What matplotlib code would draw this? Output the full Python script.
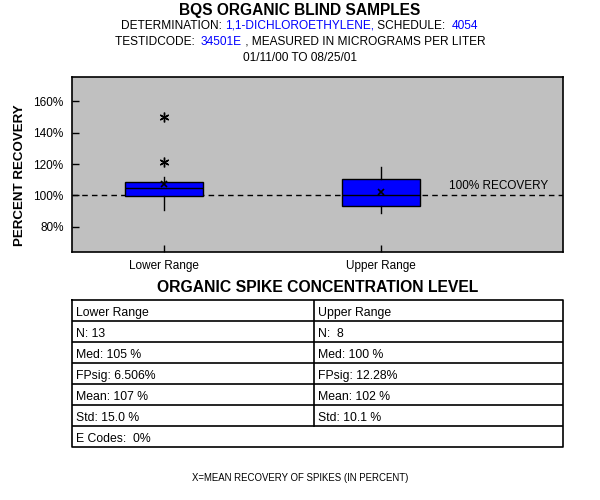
import matplotlib
matplotlib.use("Agg")
import matplotlib.pyplot as plt
from matplotlib.lines import Line2D

plt.rcParams['font.family'] = ['Liberation Sans', 'DejaVu Sans']

categories = ["Lower Range", "Upper Range"]
q1 = [99.4, 93.4]
medians = [104.5, 100.0]
q3 = [108.3, 110.3]
whislo = [91.0, 89.0]
whishi = [112.0, 118.0]
means = [107.0, 102.0]
fliers = [[150.0, 121.0], []]
yticks = [80, 100, 120, 140, 160]

table_left = ["Lower Range", "N: 13", "Med: 105 %", "FPsig: 6.506%", "Mean: 107 %", "Std: 15.0 %"]
table_right = ["Upper Range", "N:  8", "Med: 100 %", "FPsig: 12.28%", "Mean: 102 %", "Std: 10.1 %"]
table_last = "E Codes:  0%"

W, H = 600, 500
fig = plt.figure(figsize=(6, 5), dpi=100)

def px(x0, y0, x1, y1):
    return [x0 / W, 1 - y1 / H, (x1 - x0) / W, (y1 - y0) / H]

ax = fig.add_axes(px(72, 77, 563, 252))
ax.set_facecolor('#C0C0C0')
stats = []
for i in range(len(categories)):
    stats.append(dict(med=medians[i], q1=q1[i], q3=q3[i], whislo=whislo[i],
                      whishi=whishi[i], mean=means[i], fliers=fliers[i]))
ax.bxp(stats, positions=[1, 2], widths=0.36, patch_artist=True, showcaps=False,
       showmeans=True,
       boxprops=dict(facecolor='#0000FF', edgecolor='black', linewidth=1),
       medianprops=dict(color='black', linewidth=1),
       whiskerprops=dict(color='black', linewidth=1),
       meanprops=dict(marker='x', markeredgecolor='black', markersize=5, markeredgewidth=1.2),
       flierprops=dict(marker=(6, 2, 0), markeredgecolor='black', markersize=7, markeredgewidth=1.0))
ax.axhline(100, color='black', linestyle=(0, (4, 3)), linewidth=1, zorder=0.5)
ax.text(2.77, 100 + 2.2, "100% RECOVERY", ha='right', va='bottom', fontsize=8.5)
ax.set_xlim(0.575, 2.837)
ax.set_ylim(64, 175.4)
ax.set_yticks(yticks)
ax.set_yticklabels([f"{v}%" for v in yticks], fontsize=8.5)
ax.set_xticks([1, 2])
ax.set_xticklabels(categories, fontsize=8.5)
ax.tick_params(axis='both', direction='in', length=5, width=1, color='black')
ax.tick_params(axis='x', pad=6)
ax.tick_params(axis='y', pad=6)
for s in ax.spines.values():
    s.set_linewidth(1.2)

fig.text(20 / W, 1 - 175 / H, "PERCENT RECOVERY", rotation=90, ha='center', va='center',
         fontsize=9.6, fontweight='bold')

# titles
fig.text(0.5, 1 - 10 / H, "BQS ORGANIC BLIND SAMPLES", ha='center', va='center',
         fontsize=11.2, fontweight='bold')

def colored_line(y_px, segments, size=8.6):
    fig.canvas.draw()
    r = fig.canvas.get_renderer()
    texts = []
    total = 0
    for s, c in segments:
        t = fig.text(0, 1 - y_px / H, s, color=c, fontsize=size, ha='left', va='center')
        w = t.get_window_extent(renderer=r).width
        texts.append((t, w))
        total += w
    x = (W * 0.5 - total / 2)
    for t, w in texts:
        t.set_x(x / W)
        x += w

colored_line(26, [("DETERMINATION: ", 'black'), ("1,1-DICHLOROETHYLENE,", '#0000FF'),
                  (" SCHEDULE:  ", 'black'), ("4054", '#0000FF')])
colored_line(42, [("TESTIDCODE:  ", 'black'), ("34501E", '#0000FF'),
                  (" , MEASURED IN MICROGRAMS PER LITER", 'black')])
fig.text(0.5, 1 - 58 / H, "01/11/00 TO 08/25/01", ha='center', va='center', fontsize=8.6)

fig.text(318 / W, 1 - 287 / H, "ORGANIC SPIKE CONCENTRATION LEVEL", ha='center', va='center',
         fontsize=11.3, fontweight='bold')

# table
tx0, tx1, ty0, ty1 = 72, 563, 300, 447
xm = 314
nrows = 7
rh = (ty1 - ty0) / nrows
tax = fig.add_axes(px(tx0, ty0, tx1, ty1))
tax.set_xlim(tx0, tx1)
tax.set_ylim(ty1, ty0)
tax.axis('off')
lw = 1.2
tax.add_line(Line2D([tx0, tx1, tx1, tx0, tx0], [ty0, ty0, ty1, ty1, ty0], color='black', lw=lw, clip_on=False))
for i in range(1, nrows):
    y = ty0 + i * rh
    tax.add_line(Line2D([tx0, tx1], [y, y], color='black', lw=lw))
tax.add_line(Line2D([xm, xm], [ty0, ty0 + 6 * rh], color='black', lw=lw))
for i in range(6):
    yc = ty0 + (i + 0.6) * rh
    tax.text(tx0 + 4, yc, table_left[i], ha='left', va='center', fontsize=8.8)
    tax.text(xm + 4, yc, table_right[i], ha='left', va='center', fontsize=8.8)
tax.text(tx0 + 4, ty0 + 6.6 * rh, table_last, ha='left', va='center', fontsize=8.8)

fig.text(300 / W, 1 - 478 / H, "X=MEAN RECOVERY OF SPIKES (IN PERCENT)", ha='center', va='center',
         fontsize=6.9)

fig.savefig("out.png", dpi=100)
